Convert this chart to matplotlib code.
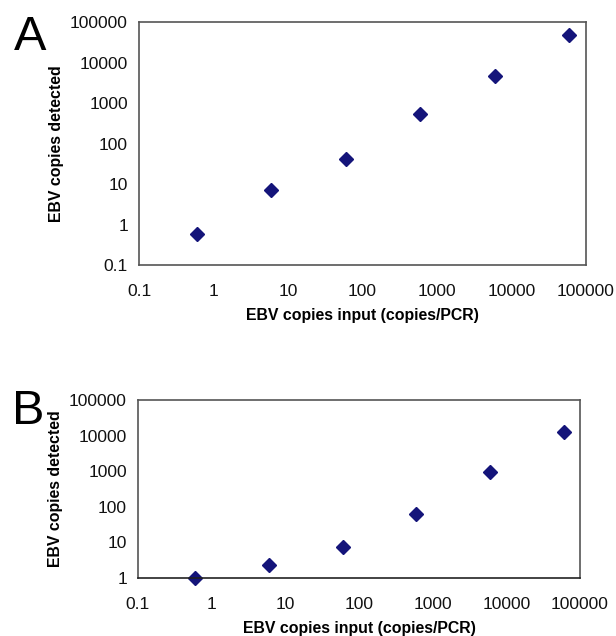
"""EBV qPCR standard curves, panels A and B"""
import matplotlib
matplotlib.use("Agg")
import matplotlib.pyplot as plt
from matplotlib.ticker import NullLocator

plt.rcParams['font.family'] = ['Liberation Sans', 'DejaVu Sans']

# data
copies_input = [0.6, 6, 60, 600, 6000, 60000]
detected_a = [0.58, 7.1, 41, 530, 4600, 47000]
detected_b = [1.0, 2.3, 7.4, 63, 950, 12600]

x_ticks = [0.1, 1, 10, 100, 1000, 10000, 100000]
x_tick_labels = ['0.1', '1', '10', '100', '1000', '10000', '100000']
y_ticks_a = [0.1, 1, 10, 100, 1000, 10000, 100000]
y_tick_labels_a = ['0.1', '1', '10', '100', '1000', '10000', '100000']
y_ticks_b = [1, 10, 100, 1000, 10000, 100000]
y_tick_labels_b = ['1', '10', '100', '1000', '10000', '100000']

xlabel = "EBV copies input (copies/PCR)"
ylabel = "EBV copies detected"
marker_color = '#14147a'
frame_color = '#555555'

fig = plt.figure(figsize=(6.16, 6.36), dpi=100)
W, H = 616, 636


def make_axes(left, top, right, bottom):
    """axes from pixel box"""
    return fig.add_axes([left / W, 1 - bottom / H, (right - left) / W, (bottom - top) / H])


def style(ax, yticks, ylabels):
    ax.set_xscale('log')
    ax.set_yscale('log')
    ax.set_xlim(x_ticks[0], x_ticks[-1])
    ax.set_ylim(yticks[0], yticks[-1])
    ax.set_xticks(x_ticks, x_tick_labels)
    ax.set_yticks(yticks, ylabels)
    ax.xaxis.set_minor_locator(NullLocator())
    ax.yaxis.set_minor_locator(NullLocator())
    ax.tick_params(length=0, labelsize=12.5, colors='#111111')
    ax.tick_params(axis='x', pad=14)
    ax.tick_params(axis='y', pad=8)
    for sp in ax.spines.values():
        sp.set_color(frame_color)
        sp.set_linewidth(1.2)
    ax.set_xlabel(xlabel, fontsize=11.4, fontweight='bold', labelpad=6)
    ax.set_ylabel(ylabel, fontsize=11.4, fontweight='bold', labelpad=4)


ax_a = make_axes(139, 22, 586, 265)
ax_a.plot(copies_input, detected_a, linestyle='none', marker='D', markersize=6.8,
          color=marker_color, clip_on=False)
style(ax_a, y_ticks_a, y_tick_labels_a)

ax_b = make_axes(138, 400, 580, 578)
ax_b.plot(copies_input, detected_b, linestyle='none', marker='D', markersize=6.8,
          color=marker_color, clip_on=False)
style(ax_b, y_ticks_b, y_tick_labels_b)
ax_b.spines['bottom'].set_color('#222222')

fig.text(14 / W, 1 - 50 / H, 'A', fontsize=35, ha='left', va='baseline')
fig.text(12 / W, 1 - 424 / H, 'B', fontsize=35, ha='left', va='baseline')

fig.savefig('out.png', dpi=100)
